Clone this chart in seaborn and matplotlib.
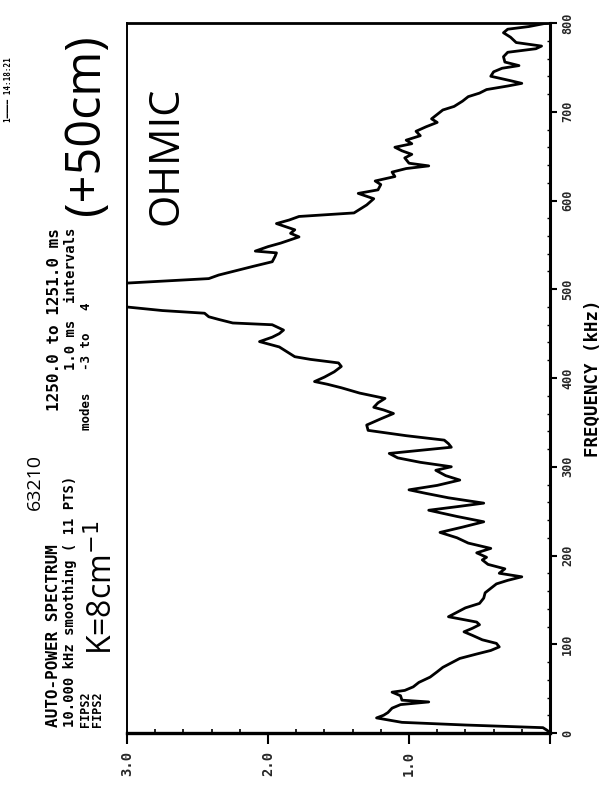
import numpy as np
import pandas as pd
import matplotlib
matplotlib.use("Agg")
import matplotlib.pyplot as plt
from matplotlib.ticker import MultipleLocator, FixedLocator
import seaborn as sns

# Auto-power spectrum, shot 63210 (frequency in kHz, amplitude in arbitrary units)
freq_khz = [
    0, 3, 6, 9, 12, 17, 20, 23, 28, 32, 35, 37, 42, 46, 48, 52, 57, 63, 69, 74,
    79, 84, 89, 93, 97, 101, 105, 110, 114, 118, 122, 125, 131, 136, 141, 146,
    152, 158, 163, 168, 172, 176, 180, 185, 190, 195, 198, 203, 208, 214, 220,
    226, 232, 238, 244, 251, 255, 259, 265, 270, 274, 279, 285, 290, 296, 300,
    305, 310, 315, 318, 322, 326, 330, 335, 341, 347, 354, 360, 364, 367, 372,
    377, 383, 389, 393, 396, 401, 407, 413, 417, 421, 424, 429, 435, 441, 446,
    450, 454, 460, 462, 466, 469, 473, 476, 480, 486, 493, 500,
    507, 512, 516, 520, 526, 531, 537, 541, 543, 548, 552, 559, 563, 567, 574,
    578, 582, 586, 590, 595, 602, 608, 612, 618, 622, 627, 632, 636, 639, 642,
    648, 652, 656, 660, 664, 668, 673, 678, 683, 688, 692, 697, 702, 706, 712,
    717, 721, 725, 729, 732, 735, 740, 745, 749, 752, 756, 762, 767, 771, 774,
    778, 784, 789, 793, 796, 800,
]
amplitude = [
    0.00, 0.02, 0.05, 0.60, 1.05, 1.23, 1.18, 1.15, 1.12, 1.06, 0.86, 1.05,
    1.06, 1.12, 1.03, 0.97, 0.93, 0.85, 0.80, 0.76, 0.70, 0.64, 0.52, 0.42,
    0.36, 0.38, 0.48, 0.55, 0.61, 0.55, 0.50, 0.52, 0.72, 0.66, 0.60, 0.50,
    0.47, 0.46, 0.42, 0.38, 0.30, 0.20, 0.36, 0.32, 0.44, 0.48, 0.45, 0.52,
    0.42, 0.58, 0.66, 0.78, 0.62, 0.47, 0.66, 0.86, 0.66, 0.47, 0.72, 0.88,
    1.00, 0.80, 0.64, 0.74, 0.81, 0.70, 0.92, 1.08, 1.14, 0.95, 0.70, 0.72,
    0.75, 1.02, 1.29, 1.30, 1.20, 1.11, 1.18, 1.25, 1.22, 1.17, 1.35, 1.48,
    1.58, 1.67, 1.60, 1.53, 1.48, 1.50, 1.70, 1.81, 1.86, 1.92, 2.06, 1.97,
    1.92, 1.89, 1.97, 2.25, 2.35, 2.42, 2.45, 2.75, 3.00, 3.80, 4.20, 3.80,
    3.00, 2.42, 2.35, 2.25, 2.10, 1.97, 1.95, 1.94, 2.09, 2.00, 1.91, 1.78,
    1.84, 1.81, 1.94, 1.85, 1.78, 1.39, 1.35, 1.30, 1.25, 1.36, 1.22, 1.20,
    1.24, 1.10, 1.12, 1.02, 0.86, 1.00, 1.03, 0.98, 1.05, 1.10, 0.98, 1.02,
    0.92, 0.95, 0.88, 0.80, 0.84, 0.80, 0.76, 0.68, 0.62, 0.58, 0.50, 0.45,
    0.30, 0.20, 0.28, 0.42, 0.40, 0.34, 0.22, 0.32, 0.33, 0.30, 0.10, 0.06,
    0.24, 0.28, 0.33, 0.30, 0.15, 0.02,
]
amp_ticks = [3.0, 2.0, 1.0, 0.0]
amp_tick_labels = ["3.0", "2.0", "1.0", ""]
freq_ticks = [0, 100, 200, 300, 400, 500, 600, 700, 800]
freq_tick_labels = [str(v) for v in freq_ticks]

spectrum = pd.DataFrame({"freq": freq_khz, "amp": amplitude})

sns.set_style("ticks")
plt.rcParams["font.family"] = ["DejaVu Sans"]

W, H = 611, 786
fig = plt.figure(figsize=(W / 100, H / 100), dpi=100)
fig.patch.set_facecolor("white")

# frame: amplitude runs right-to-left along the bottom, frequency bottom-to-top
left, right, top, bottom = 127, 550, 23, 733
ax = fig.add_axes([left / W, 1 - bottom / H, (right - left) / W, (bottom - top) / H])
ax.set_facecolor("white")

sns.lineplot(data=spectrum, x="amp", y="freq", sort=False, estimator=None,
             orient="y", color="black", linewidth=2.0, ax=ax)

ax.set_xlim(3.0, 0.0)
ax.set_ylim(0, 800)
ax.set_xlabel("")
ax.set_ylabel("")

mono = "DejaVu Sans Mono"
ax.xaxis.set_major_locator(FixedLocator(amp_ticks))
ax.set_xticklabels(amp_tick_labels, rotation=90, family=mono,
                   fontweight="bold", fontsize=10)
ax.xaxis.set_minor_locator(MultipleLocator(0.2))
ax.tick_params(axis="x", which="major", direction="out", length=8,
               width=1.5, pad=5, color="black")
ax.tick_params(axis="x", which="minor", direction="in", length=3,
               width=1.2, color="black")

ax.yaxis.tick_right()
ax.set_yticks(freq_ticks)
ax.set_yticklabels(freq_tick_labels, rotation=90, va="center", family=mono,
                   fontweight="bold", fontsize=8.5)
ax.yaxis.set_minor_locator(MultipleLocator(20))
ax.tick_params(axis="y", which="major", direction="out", length=5,
               width=1.5, pad=3, color="black", left=False, right=True)
ax.tick_params(axis="y", which="minor", direction="in", length=2.5,
               width=1.0, color="black", left=False, right=True)

for side, lw in [("bottom", 2.4), ("right", 2.2), ("top", 2.0), ("left", 1.4)]:
    ax.spines[side].set_visible(True)
    ax.spines[side].set_linewidth(lw)
    ax.spines[side].set_color("black")


def put(x, y, s, **kw):
    fig.text(x / W, 1 - y / H, s, rotation=90, **kw)


plotter = dict(family=mono, fontweight="bold", color="black")
hand = dict(family=["Open Sans", "DejaVu Sans"], fontweight="normal", color="black")

# header block written by the plotter
put(54, 727, "AUTO-POWER SPECTRUM", ha="center", va="bottom", fontsize=11.5, **plotter)
put(55, 228, "1250.0 to 1251.0 ms", ha="center", va="top", fontsize=11.5, **plotter)
put(70, 727, "10.000 kHz smoothing ( 11 PTS)", ha="center", va="bottom",
    fontsize=10, **plotter)
put(71, 228, "1.0 ms  intervals", ha="center", va="top", fontsize=10, **plotter)
put(85, 727, "FIPS2", ha="center", va="bottom", fontsize=8.5, **plotter)
put(98, 727, "FIPS2", ha="center", va="bottom", fontsize=8.5, **plotter)
put(86, 430, "modes   -3 to   4", ha="center", va="bottom", fontsize=9, **plotter)
put(9, 90, "1━━━━ 14:18:21", ha="center", va="center", fontsize=5.5, **plotter)

# hand-written annotations
put(35, 482, "63210", ha="center", va="center", fontsize=14, **hand)
put(104, 588, r"K=8cm$^{-1}$", ha="center", va="center", fontsize=23, **hand)
put(86, 125, "(+50cm)", ha="center", va="center", fontsize=35, **hand)
put(166, 156, "OHMIC", ha="center", va="center", fontsize=30, **hand)

# frequency axis title
put(593, 378, "FREQUENCY (kHz)", ha="center", va="center", fontsize=12.5, **plotter)

fig.savefig("out.png", dpi=100, facecolor="white")
